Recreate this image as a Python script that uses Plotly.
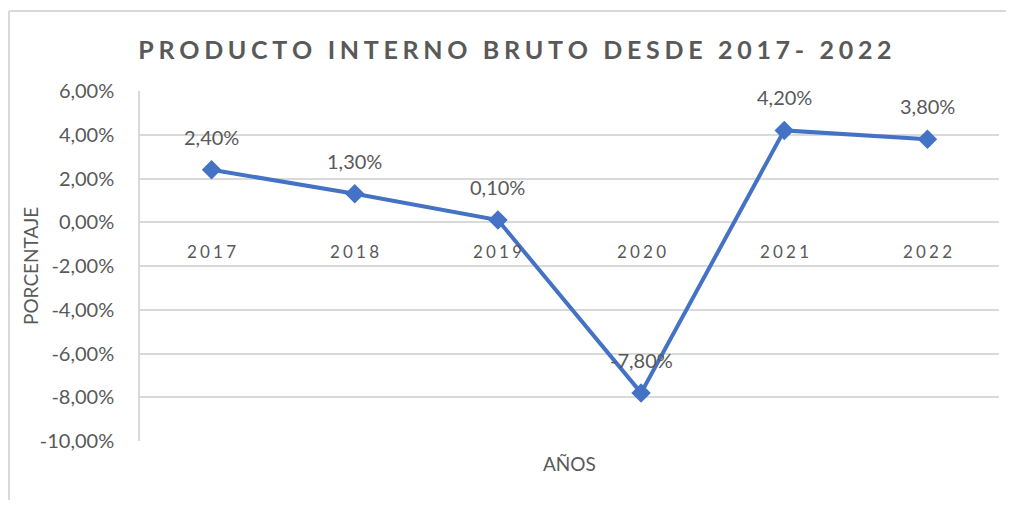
import plotly.graph_objects as go

years = ["2017", "2018", "2019", "2020", "2021", "2022"]
pib = [2.40, 1.30, 0.10, -7.80, 4.20, 3.80]
value_labels = ["2,40%", "1,30%", "0,10%", "-7,80%", "4,20%", "3,80%"]
y_ticks = [6, 4, 2, 0, -2, -4, -6, -8, -10]
y_tick_labels = ["6,00%", "4,00%", "2,00%", "0,00%", "-2,00%", "-4,00%", "-6,00%", "-8,00%", "-10,00%"]

TITLE = "PRODUCTO INTERNO BRUTO DESDE 2017- 2022"
FONT = "Lato"
GRAY = "#595959"
BLUE = "#4472C4"
FRAME = "#D9D9D9"

# The page body has an 8px margin; figure is sized to fit inside the window.
W, H = 998, 492
L, R, T, B = 132, 7, 83, 59
PW, PH = W - L - R, H - T - B


def spaced(s, sep="\u2009"):
    return sep.join(list(s))


fig = go.Figure()
fig.add_trace(go.Scatter(
    x=list(range(len(years))), y=pib, mode="lines+markers",
    line=dict(color=BLUE, width=4),
    marker=dict(symbol="diamond", size=15, color=BLUE),
    hoverinfo="skip", showlegend=False,
))

annotations = []
for i, (v, lab) in enumerate(zip(pib, value_labels)):
    annotations.append(dict(x=i, y=v, xref="x", yref="y", text=lab, showarrow=False,
                            yshift=33, font=dict(family=FONT, size=20, color=GRAY)))
for i, yr in enumerate(years):
    annotations.append(dict(x=i, y=0, xref="x", yref="y", text=spaced(yr, "\u2009\u200a"), showarrow=False,
                            yshift=-29, font=dict(family=FONT, size=17, color=GRAY)))
annotations.append(dict(x=0.5, y=-10, xref="x domain", yref="y", text="AÑOS", showarrow=False,
                        yshift=-22, font=dict(family=FONT, size=19, color=GRAY)))
annotations.append(dict(x=(30 - 140) / PW, y=0.5, xref="paper", yref="y domain", text="PORCENTAJE",
                        xanchor="center", yanchor="middle",
                        showarrow=False, textangle=-90, font=dict(family=FONT, size=19, color=GRAY)))

fig.update_layout(
    width=W, height=H,
    margin=dict(l=L, r=R, t=T, b=B),
    paper_bgcolor="white", plot_bgcolor="white",
    font=dict(family=FONT, color=GRAY),
    title=dict(text="<b>" + spaced(TITLE, "\u2009\u200a") + "</b>", x=(515 - 8) / W, xref="container",
               xanchor="center", y=1 - (50 - 8) / H, yref="container", yanchor="middle",
               font=dict(family=FONT, size=25, color=GRAY)),
    xaxis=dict(range=[-0.5, 5.5], showticklabels=False, showgrid=False,
               zeroline=False, showline=False, fixedrange=True),
    yaxis=dict(range=[-10, 6], tickvals=y_ticks, ticktext=y_tick_labels,
               showgrid=True, gridcolor=FRAME, gridwidth=1.5,
               zeroline=True, zerolinecolor=FRAME, zerolinewidth=1.5,
               showline=True, linecolor=FRAME, linewidth=1.5, mirror=False,
               ticks="", ticklabelstandoff=20, tickfont=dict(family=FONT, size=20, color=GRAY),
               fixedrange=True),
    annotations=annotations,
)
# Outer chart frame (light gray border, top and left visible)
fx = (1 - L) / PW
fy = 1 + (T - 3) / PH
fig.add_shape(type="line", xref="paper", yref="paper", x0=fx, x1=(W - L) / PW, y0=fy, y1=fy,
              line=dict(color=FRAME, width=2))
fig.add_shape(type="line", xref="paper", yref="paper", x0=fx, x1=fx, y0=-B / PH, y1=fy,
              line=dict(color=FRAME, width=2))

fig.write_html("out.html")
